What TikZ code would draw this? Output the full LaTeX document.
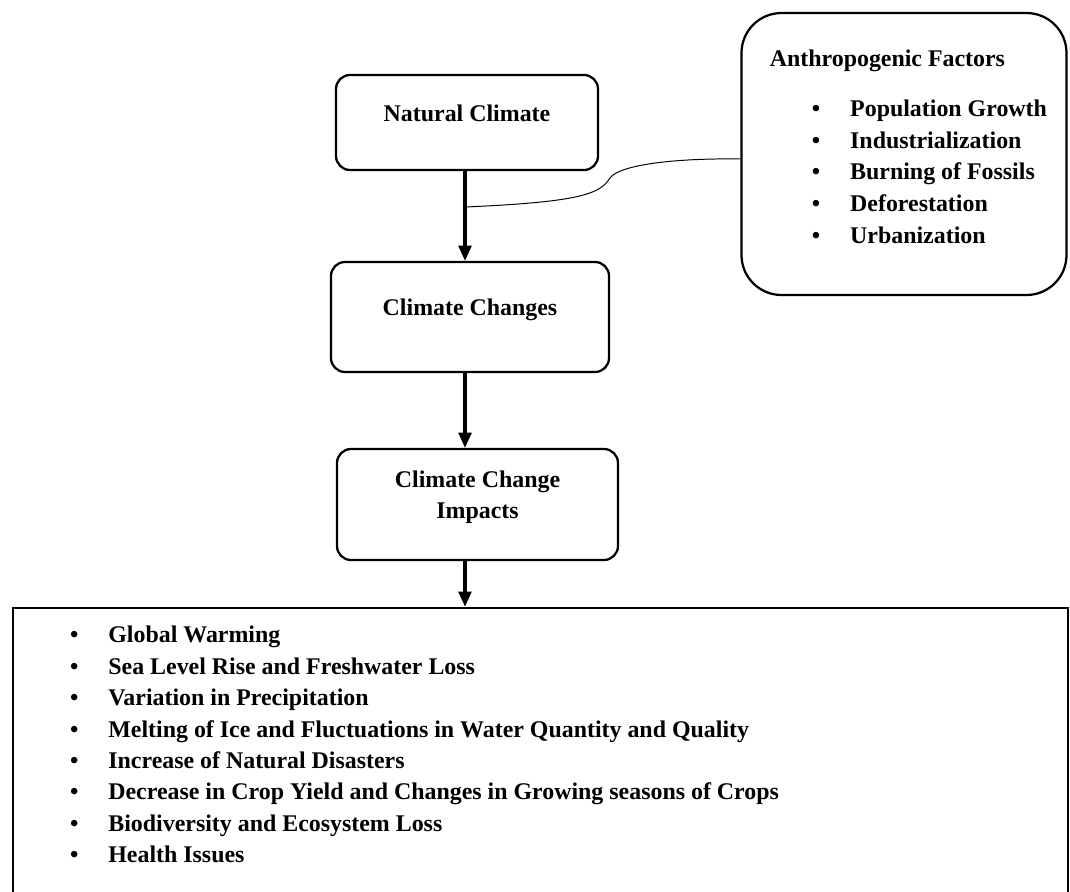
\documentclass[tikz,border=0pt]{standalone}
\usepackage{fontspec}
\setmainfont{Liberation Serif}
\usetikzlibrary{arrows.meta, positioning}

\begin{document}
\begin{tikzpicture}[
    box/.style={draw, line width=1.6pt, rounded corners=0.35cm, align=center,
        font=\fontsize{17}{22}\selectfont\bfseries, text height=0.4cm, text depth=0.47cm},
    factorbox/.style={draw, line width=1.6pt, rounded corners=1cm, font=\fontsize{17}{22.5}\selectfont\bfseries},
    listbox/.style={draw, line width=1.8pt, inner sep=0pt},
    arrow/.style={-{Triangle[length=0.38cm, width=0.32cm]}, line width=2.2pt},
    link/.style={line width=0.7pt}
]
    \useasboundingbox (0,0) rectangle (26.75,-22.275);
    \clip (0,0) rectangle (26.75,-22.275);

    % Main chain
    \node[box, minimum width=6.55cm, minimum height=2.375cm] (natural) at (11.675,-3.0625) {Natural Climate};
    \node[box, minimum width=6.95cm, minimum height=2.75cm] (changes) at (11.75,-7.925) {Climate Changes};
    \node[box, minimum width=7.025cm, minimum height=2.775cm, text height=1.175cm] (impacts) at (11.9375,-12.6125) {Climate Change\\Impacts};

    % Human causes
    \node[factorbox, minimum width=8.125cm, minimum height=7.05cm] (anthro) at (22.6,-3.85) {%
        \hspace*{0.22cm}%
        \begin{tabular}{@{\hspace{1.05cm}}l@{\hspace{0.75cm}}l@{}}
        \multicolumn{2}{@{}l@{}}{Anthropogenic Factors}\\[13.5pt]
        \textbullet & Population Growth\\
        \textbullet & Industrialization\\
        \textbullet & Burning of Fossils\\
        \textbullet & Deforestation\\
        \textbullet & Urbanization\rule[-0.52cm]{0pt}{0pt}
        \end{tabular}};

    % Effects
    \node[listbox, minimum width=26.375cm, minimum height=7.425cm] (effects) at (13.5125,-18.9125) {};
    \node[inner sep=0pt, font=\fontsize{17}{22.3}\selectfont\bfseries,
        below right=0.35cm and 1.45cm of effects.north west] (effectlist) {%
        \begin{tabular}{@{}l@{\hspace{0.75cm}}l@{}}
        \textbullet & Global Warming\\
        \textbullet & Sea Level Rise and Freshwater Loss\\
        \textbullet & Variation in Precipitation\\
        \textbullet & Melting of Ice and Fluctuations in Water Quantity and Quality\\
        \textbullet & Increase of Natural Disasters\\
        \textbullet & Decrease in Crop Yield and Changes in Growing seasons of Crops\\
        \textbullet & Biodiversity and Ecosystem Loss\\
        \textbullet & Health Issues
        \end{tabular}};

    % Arrows
    \coordinate (tap) at (11.625,-5.175);
    \draw[arrow] (natural.south -| tap) -- (changes.north -| tap);
    \draw[arrow] (changes.south -| tap) -- (impacts.north -| tap);
    \draw[arrow] (impacts.south -| tap) -- (effects.north -| tap);

    % Link from the factors
    \draw[link] (tap) .. controls (14.5,-5.05) and (15,-4.85) .. (15.25,-4.45)
        .. controls (15.5,-4.1) and (17,-3.95) .. ([yshift=-0.125cm]anthro.west);
\end{tikzpicture}
\end{document}
